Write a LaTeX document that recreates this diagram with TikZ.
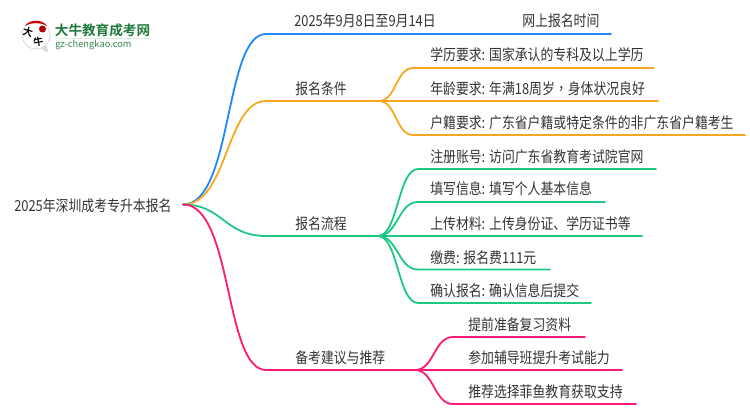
\documentclass[tikz,border=0pt]{standalone}
\usepackage{fontspec}
\setmainfont{Noto Sans CJK SC}
\newfontfamily\logofont{Noto Sans CJK SC Bold}
\newfontfamily\commafont{Noto Sans CJK TC}
\definecolor{cblue}{HTML}{2088FF}
\definecolor{corange}{HTML}{F9A81E}
\definecolor{cgreen}{HTML}{1CC884}
\definecolor{cpink}{HTML}{FF1A75}
\definecolor{ctext}{HTML}{333333}
\definecolor{clogo}{HTML}{1F7A3A}
\tikzset{
	lab/.style={anchor=base west,inner sep=0pt,text=ctext,yscale=1.18,transform shape,font=\fontsize{9.65pt}{9.65pt}\selectfont},
	branch/.style={line width=1.35pt,line cap=round,line join=round},
}
\begin{document}
\begin{tikzpicture}[x=0.75pt,y=-0.75pt]
	\useasboundingbox (0,0) rectangle (750,410);
	% logo
	\fill[black!15] (38,47)--(48,52.5)--(46,42)--cycle;
	\draw[black!15,fill=white,line width=0.6pt] (36,35) circle (14);
	\fill[red!80!black] (25,26) .. controls (29,19) and (43,19) .. (47,26) .. controls (40,22) and (32,22) .. cycle;
	\fill[red!70!black] (42.5,29) circle (3.5);
	\node[inner sep=0pt,rotate=-15] (logoda) at (28,32) {\logofont\fontsize{7.5pt}{7.5pt}\selectfont 大};
	\node[inner sep=0pt,rotate=10] (logoniu) at (38.5,42) {\logofont\fontsize{7.5pt}{7.5pt}\selectfont 牛};
	\node[inner sep=0pt,text=clogo] (logotitle) at (102.5,30) {\logofont\fontsize{10.2pt}{10.2pt}\selectfont 大牛教育成考网};
	\fill[clogo!15] (55,38) rectangle (150,39);
	\node[inner sep=0pt,anchor=west,text=clogo!90] (logourl) at (55,44.5) {\fontsize{7pt}{7pt}\selectfont gz-chengkao.com};
	% joints
	\coordinate (root) at (183,204.5);
	\coordinate (bTime) at (266,34);
	\coordinate (bCond) at (266,101);
	\coordinate (bFlow) at (266,236);
	\coordinate (bTip) at (266,370);
	\coordinate (jCond) at (379,101);
	\coordinate (jFlow) at (378,236);
	\coordinate (jTip) at (415,370);
	\coordinate (eTime) at (611,34);
	% main branches
	\draw[branch,cblue] (root) .. controls +(50,0) and +(-42,0) .. (bTime) -- (eTime);
	\draw[branch,corange] (root) .. controls +(45,0) and +(-40,0) .. (bCond) -- (jCond);
	\draw[branch,cgreen] (root) .. controls +(40,0) and +(-42,0) .. (bFlow) -- (jFlow);
	\draw[branch,cpink] (root) .. controls +(50,0) and +(-42,0) .. (bTip) -- (jTip);
	% children
	\foreach \nam/\y/\xe in {a/68/654,b/101/658,c/135/745}
	{
		\coordinate (s\nam) at (413,\y);
		\coordinate (e\nam) at (\xe,\y);
		\draw[branch,corange] (jCond) .. controls +(17,0) and +(-17,0) .. (s\nam) -- (e\nam);
	}
	\foreach \nam/\y/\xe in {d/169/656,e/202/605,f/236/642,g/269.5/550,h/303/591}
	{
		\coordinate (s\nam) at (418,\y);
		\coordinate (e\nam) at (\xe,\y);
		\draw[branch,cgreen] (jFlow) .. controls +(20,0) and +(-20,0) .. (s\nam) -- (e\nam);
	}
	\foreach \nam/\y/\xe in {i/337/585,j/370/622,k/404/636}
	{
		\coordinate (s\nam) at (453,\y);
		\coordinate (e\nam) at (\xe,\y);
		\draw[branch,cpink] (jTip) .. controls +(19,0) and +(-19,0) .. (s\nam) -- (e\nam);
	}
	% labels
	\node[lab] (troot) at (14,211) {2025年深圳成考专升本报名};
	\node[lab] (ttime) at (294,27) {2025年9月8日至9月14日};
	\node[lab] (tnet) at (522,27) {网上报名时间};
	\node[lab] (tcond) at (295,94) {报名条件};
	\node[lab] (tflow) at (295,229) {报名流程};
	\node[lab] (ttip) at (295,363) {备考建议与推荐};
	\node[lab] (ta) at (430,61) {学历要求: 国家承认的专科及以上学历};
	\node[lab] (tb) at (430,94) {年龄要求: 年满18周岁{\commafont ，}身体状况良好};
	\node[lab] (tc) at (430,128) {户籍要求: 广东省户籍或特定条件的非广东省户籍考生};
	\node[lab] (td) at (430,162) {注册账号: 访问广东省教育考试院官网};
	\node[lab] (te) at (430,195) {填写信息: 填写个人基本信息};
	\node[lab] (tf) at (430,229) {上传材料: 上传身份证、学历证书等};
	\node[lab] (tg) at (430,263) {缴费: 报名费111元};
	\node[lab] (th) at (430,296) {确认报名: 确认信息后提交};
	\node[lab] (ti) at (468,330) {提前准备复习资料};
	\node[lab] (tj) at (468,363) {参加辅导班提升考试能力};
	\node[lab] (tk) at (468,397) {推荐选择菲鱼教育获取支持};
\end{tikzpicture}
\end{document}
